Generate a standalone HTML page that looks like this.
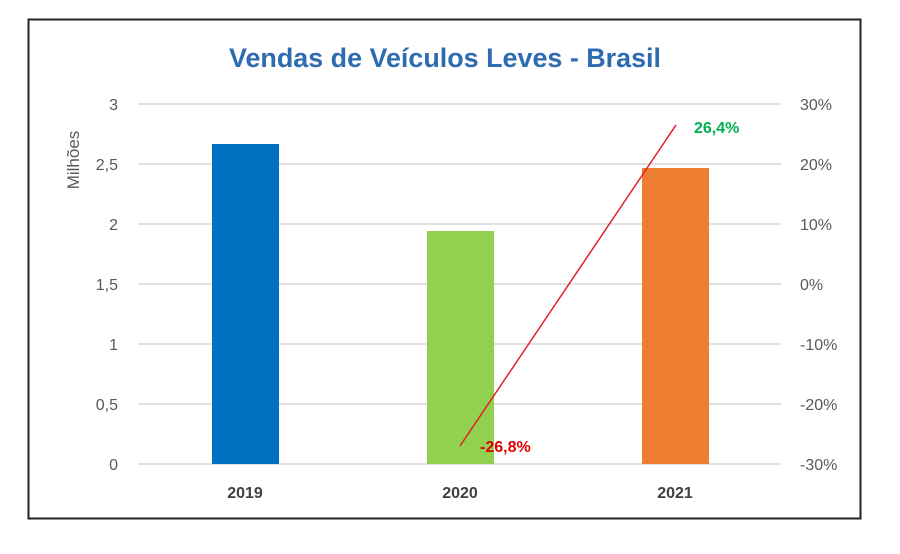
<!DOCTYPE html>
<html><head><style>
body{margin:0;background:#fff;}
svg text{font-family:"Liberation Sans",sans-serif;}
</style></head><body>
<svg width="900" height="549" viewBox="0 0 900 549">
<rect width="900" height="549" fill="#fff"/>
<rect x="28.5" y="19.5" width="832" height="499" fill="#fff" stroke="#222" stroke-width="2"/>
<text x="445" y="67" text-anchor="middle" font-size="27" font-weight="bold" fill="#2e6bb0" textLength="432" lengthAdjust="spacingAndGlyphs">Vendas de Veículos Leves - Brasil</text>
<g stroke="#d9d9d9" stroke-width="1.5">
<line x1="138" y1="104" x2="781" y2="104"/>
<line x1="138" y1="164" x2="781" y2="164"/>
<line x1="138" y1="224" x2="781" y2="224"/>
<line x1="138" y1="284" x2="781" y2="284"/>
<line x1="138" y1="344" x2="781" y2="344"/>
<line x1="138" y1="404" x2="781" y2="404"/>
<line x1="138" y1="464" x2="781" y2="464"/>
</g>
<g font-size="16" fill="#595959" text-anchor="end">
<text x="118" y="110">3</text><text x="118" y="170">2,5</text><text x="118" y="230">2</text>
<text x="118" y="290">1,5</text><text x="118" y="350">1</text><text x="118" y="410">0,5</text><text x="118" y="470">0</text>
</g>
<g font-size="16" fill="#595959" text-anchor="start">
<text x="800" y="110">30%</text><text x="800" y="170">20%</text><text x="800" y="230">10%</text>
<text x="800" y="290">0%</text><text x="800" y="350">-10%</text><text x="800" y="410">-20%</text><text x="800" y="470">-30%</text>
</g>
<text transform="translate(79,160) rotate(-90)" text-anchor="middle" font-size="17" fill="#595959">Milhões</text>
<rect x="212" y="144" width="67" height="320" fill="#0070c0"/>
<rect x="427" y="231" width="67" height="233" fill="#92d050"/>
<rect x="642" y="168" width="67" height="296" fill="#ed7d31"/>
<line x1="460" y1="446" x2="676" y2="125" stroke="#e0202a" stroke-width="1.5"/>
<text x="480" y="452" font-size="16" font-weight="bold" fill="#e00000">-26,8%</text>
<text x="694" y="133" font-size="16" font-weight="bold" fill="#00b050">26,4%</text>
<g font-size="16" font-weight="bold" fill="#404040" text-anchor="middle">
<text x="245" y="498">2019</text><text x="460" y="498">2020</text><text x="675" y="498">2021</text>
</g>
</svg>
</body></html>
